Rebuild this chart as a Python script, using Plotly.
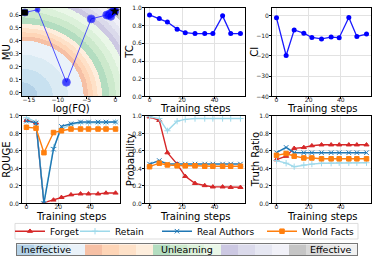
import numpy as np
import plotly.graph_objects as go

# ---------------- data ----------------
steps = [0, 6, 11, 17, 22, 28, 34, 39, 45, 50, 56]
log_fq = [-15.7, -13.5, -8.5, -4.2, -1.5, -0.9, -0.6, -1.2, -0.3, -0.8, -0.1]
mu = [0.62, 0.64, 0.08, 0.57, 0.60, 0.61, 0.62, 0.60, 0.63, 0.59, 0.63]
tc = [0.92, 0.88, 0.84, 0.76, 0.72, 0.71, 0.71, 0.71, 0.91, 0.71, 0.71]
ci = [-1.2, -19.8, -7.2, -8.8, -10.9, -11.6, -10.7, -11.0, -1.0, -10.4, -9.2]

series_names = ["Forget", "Retain", "Real Authors", "World Facts"]
rouge_forget = [0.95, 0.92, 0.01, 0.04, 0.07, 0.10, 0.11, 0.11, 0.11, 0.12, 0.12]
rouge_retain = [0.98, 0.93, 0.02, 0.64, 0.85, 0.90, 0.92, 0.92, 0.92, 0.92, 0.93]
rouge_real = [0.94, 0.92, 0.00, 0.62, 0.88, 0.91, 0.93, 0.93, 0.93, 0.93, 0.93]
rouge_world = [0.87, 0.86, 0.58, 0.81, 0.83, 0.85, 0.85, 0.85, 0.85, 0.85, 0.85]

prob_forget = [0.99, 0.95, 0.58, 0.45, 0.31, 0.23, 0.205, 0.19, 0.19, 0.185, 0.185]
prob_retain = [0.99, 0.97, 0.83, 0.94, 0.96, 0.97, 0.97, 0.97, 0.97, 0.97, 0.97]
prob_real = [0.45, 0.49, 0.45, 0.45, 0.45, 0.45, 0.45, 0.45, 0.45, 0.45, 0.45]
prob_world = [0.42, 0.46, 0.44, 0.43, 0.43, 0.43, 0.425, 0.425, 0.425, 0.425, 0.425]

tr_forget = [0.50, 0.54, 0.63, 0.64, 0.66, 0.67, 0.67, 0.67, 0.67, 0.67, 0.67]
tr_retain = [0.49, 0.46, 0.42, 0.44, 0.45, 0.46, 0.46, 0.465, 0.465, 0.465, 0.465]
tr_real = [0.58, 0.64, 0.58, 0.58, 0.58, 0.58, 0.58, 0.58, 0.58, 0.58, 0.58]
tr_world = [0.55, 0.57, 0.54, 0.52, 0.52, 0.51, 0.51, 0.51, 0.51, 0.51, 0.51]

band_labels = ["Ineffective", "Unlearning", "Effective"]
x_titles = ["log(FQ)", "Training steps", "Training steps",
            "Training steps", "Training steps", "Training steps"]
y_titles = ["MU", "TC", "CI", "ROUGE", "Probability", "Truth Ratio"]

# ---------------- styling ----------------
W, H = 374, 260
FONT = "DejaVu Sans"
series_colors = ["#d62728", "#9ed9ea", "#1f77b4", "#ff7f0e"]
series_symbols = ["triangle-up", "cross-thin", "x-thin", "square"]

tab20c = ['#3182bd', '#6baed6', '#9ecae1', '#c6dbef', '#e6550d', '#fd8d3c', '#fdae6b', '#fdd0a2',
          '#31a354', '#74c476', '#a1d99b', '#c7e9c0', '#756bb1', '#9e9ac8', '#bcbddc', '#dadaeb',
          '#636363', '#969696', '#bdbdbd', '#d9d9d9']


def blend(hexc, a=0.37):
    h = hexc.lstrip('#')
    r, g, b = (int(h[i:i + 2], 16) for i in (0, 2, 4))
    return 'rgb(%d,%d,%d)' % tuple(round(a * c + (1 - a) * 255) for c in (r, g, b))


pastel = [blend(c) for c in tab20c]
cscale = []
for i, c in enumerate(pastel):
    cscale.append([i / 20, c])
    cscale.append([(i + 1) / 20, c])


def dx(a, b):
    return [a / W, b / W]


def dy(top, bottom):
    return [1 - bottom / H, 1 - top / H]


fig = go.Figure()

# ---------------- panel 1 background field ----------------
xr1 = [-16.2, 0.8]
yr1 = [-0.03, 0.655]
gx = np.linspace(xr1[0], xr1[1], 260)
gy = np.linspace(yr1[0], yr1[1], 200)
A, B = np.meshgrid((gx - xr1[0]) / (xr1[1] - xr1[0]), (gy - yr1[0]) / (yr1[1] - yr1[0]))
R = np.sqrt(A ** 2 + B ** 2)
T = np.floor(np.interp(R, [0, 0.63, 0.82, 1.1, 1.32, 1.5], [0, 4, 8, 12, 16, 17.4]))
fig.add_trace(go.Heatmap(x=gx, y=gy, z=T, zmin=-0.5, zmax=19.5, colorscale=cscale,
                         showscale=False, hoverinfo='skip', xaxis='x', yaxis='y'))

sizes = [7, 5, 8, 8, 8, 8, 8, 8, 8, 8, 8]
fig.add_trace(go.Scatter(x=log_fq, y=mu, mode='lines+markers', xaxis='x', yaxis='y',
                         line=dict(color='rgba(40,40,255,0.8)', width=1),
                         marker=dict(color='#0000ff', size=sizes), showlegend=False))
fig.add_trace(go.Scatter(x=log_fq[:1], y=mu[:1], mode='markers', xaxis='x', yaxis='y',
                         marker=dict(color='black', symbol='square', size=6), showlegend=False))
fig.add_trace(go.Scatter(x=log_fq[-1:], y=mu[-1:], mode='markers', xaxis='x', yaxis='y',
                         marker=dict(color='black', symbol='star', size=8), showlegend=False))

# ---------------- TC & CI ----------------
for vals, ax in [(tc, '2'), (ci, '3')]:
    fig.add_trace(go.Scatter(x=steps, y=vals, mode='lines+markers', xaxis='x' + ax, yaxis='y' + ax,
                             line=dict(color='#1a1aff', width=1.3),
                             marker=dict(color='#0000ff', size=5), showlegend=False))

# ---------------- bottom row ----------------
legend_ids = ['legend', 'legend2', 'legend3', 'legend4']
groups = [
    ('4', [rouge_forget, rouge_retain, rouge_real, rouge_world]),
    ('5', [prob_forget, prob_retain, prob_real, prob_world]),
    ('6', [tr_forget, tr_retain, tr_real, tr_world]),
]
for gi, (ax, vals_list) in enumerate(groups):
    for si, vals in enumerate(vals_list):
        fig.add_trace(go.Scatter(
            x=steps, y=vals, mode='lines+markers', xaxis='x' + ax, yaxis='y' + ax,
            name=series_names[si], legendgroup=series_names[si], showlegend=(gi == 0),
            legend=legend_ids[si],
            line=dict(color=series_colors[si], width=1.4),
            marker=dict(color=series_colors[si], symbol=series_symbols[si], size=4.5,
                        line=dict(color=series_colors[si], width=1))))

# ---------------- colour strip ----------------
fig.add_trace(go.Heatmap(x=list(range(20)), y=[0], z=[list(range(20))], zmin=-0.5, zmax=19.5,
                         colorscale=cscale, showscale=False, hoverinfo='skip',
                         xaxis='x7', yaxis='y7'))

# ---------------- layout ----------------
base = dict(showline=True, linecolor='black', linewidth=0.8, mirror=True, ticks='outside',
            ticklen=2, tickwidth=0.8, tickcolor='black',
            tickfont=dict(size=6, color='#222', family=FONT),
            showgrid=True, gridcolor='#e2e2e2', gridwidth=0.8, zeroline=False)
xbase = dict(base, ticklabelstandoff=-5)
ybase = dict(base, ticklabelstandoff=-1)
tfont = dict(size=10, family=FONT, color='black')

top_px = (4, 95)
bot_px = (115, 205)
col_px = [(22, 120), (145, 245), (272, 371)]
top = dy(*top_px)
bot = dy(*bot_px)
cols = [dx(*c) for c in col_px]

layout = dict(width=W, height=H, margin=dict(l=0, r=0, t=0, b=0),
              paper_bgcolor='white', plot_bgcolor='white', font=dict(family=FONT))

layout['xaxis'] = dict(xbase, domain=cols[0], anchor='y', range=xr1, tickvals=[-15, -10, -5, 0],
                       gridcolor='rgba(255,255,255,0.35)')
layout['yaxis'] = dict(ybase, domain=top, anchor='x', range=yr1,
                       tickvals=[0, 0.1, 0.2, 0.3, 0.4, 0.5, 0.6], tickformat='.1f',
                       gridcolor='rgba(255,255,255,0.35)')

xstep = dict(range=[-2.8, 58.8], tickvals=[0, 20, 40])
layout['xaxis2'] = dict(xbase, domain=cols[1], anchor='y2', **xstep)
layout['yaxis2'] = dict(ybase, domain=top, anchor='x2', range=[0, 1],
                        tickvals=[0, 0.2, 0.4, 0.6, 0.8, 1.0], tickformat='.1f')
layout['xaxis3'] = dict(xbase, domain=cols[2], anchor='y3', **xstep)
layout['yaxis3'] = dict(ybase, domain=top, anchor='x3', range=[-40, 3.7],
                        tickvals=[0, -10, -20, -30, -40])

for i, ax in enumerate(['4', '5', '6']):
    layout['xaxis' + ax] = dict(xbase, domain=cols[i], anchor='y' + ax, **xstep)
    layout['yaxis' + ax] = dict(ybase, domain=bot, anchor='x' + ax, range=[0, 1],
                                tickvals=[0, 0.2, 0.4, 0.6, 0.8, 1.0], tickformat='.1f')

layout['xaxis7'] = dict(domain=dx(17, 357), anchor='y7', range=[-0.5, 19.5], showticklabels=False,
                        ticks='', showgrid=False, zeroline=False, showline=True, mirror=True,
                        linecolor='#777', linewidth=0.8)
layout['yaxis7'] = dict(domain=dy(247, 258), anchor='x7', range=[-0.5, 0.5], showticklabels=False,
                        ticks='', showgrid=False, zeroline=False, showline=True, mirror=True,
                        linecolor='#777', linewidth=0.8)

# separate legends so each entry sits where the reference has it
leg_text_x = [50, 115, 197, 302]
for lid, tx in zip(legend_ids, leg_text_x):
    layout[lid] = dict(orientation='h', x=(tx - 40) / W, xanchor='left', y=1 - 233.5 / H,
                       yanchor='middle', font=dict(size=9, family=FONT, color='black'),
                       bgcolor='rgba(0,0,0,0)', borderwidth=0, itemwidth=30)

layout['shapes'] = [dict(type='rect', xref='paper', yref='paper', x0=15 / W, x1=358 / W,
                         y0=1 - 241.5 / H, y1=1 - 225.5 / H,
                         line=dict(color='#d4d4d4', width=0.8))]

annotations = []
ymid = 1 - 252.5 / H
cb_font = dict(size=9.5, family=FONT, color='black')
annotations.append(dict(text=band_labels[0], x=19 / W, y=ymid, xanchor='left'))
annotations.append(dict(text=band_labels[1], x=187 / W, y=ymid, xanchor='center'))
annotations.append(dict(text=band_labels[2], x=354 / W, y=ymid, xanchor='right'))
for a in annotations:
    a.update(xref='paper', yref='paper', yanchor='middle', showarrow=False, font=cb_font)

# axis titles placed at the reference pixel positions
xt_y = [107, 107, 107, 218, 218, 218]
yt_x = [6, 129.5, 254.5, 7, 130.5, 255.5]
panels = [(col_px[0], top_px), (col_px[1], top_px), (col_px[2], top_px),
          (col_px[0], bot_px), (col_px[1], bot_px), (col_px[2], bot_px)]
for k, ((cx0, cx1), (py0, py1)) in enumerate(panels):
    annotations.append(dict(text=x_titles[k], x=(cx0 + cx1) / 2 / W, y=1 - xt_y[k] / H,
                            xref='paper', yref='paper', xanchor='center', yanchor='middle',
                            showarrow=False, font=tfont))
    annotations.append(dict(text=y_titles[k], x=yt_x[k] / W, y=1 - (py0 + py1) / 2 / H,
                            xref='paper', yref='paper', xanchor='center', yanchor='middle',
                            textangle=-90, showarrow=False, font=tfont))
layout['annotations'] = annotations

fig.update_layout(**layout)
fig.write_html("out.html", config={'displayModeBar': False},
               post_script="document.body.style.margin='0';")
